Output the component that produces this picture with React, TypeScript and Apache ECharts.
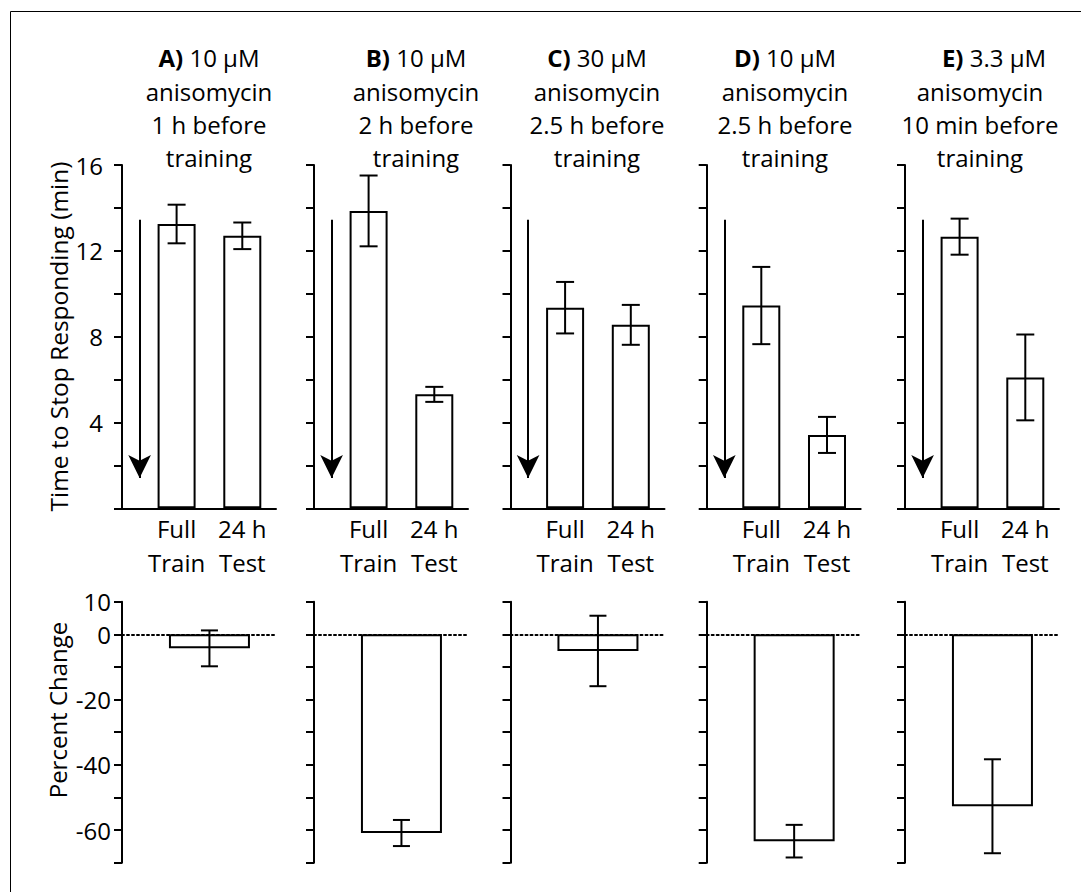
import React, { useEffect, useRef } from 'react';
import * as echarts from 'echarts';

// ---------- data ----------
const panelLetters = ['A)', 'B)', 'C)', 'D)', 'E)'];
const doses = ['10 µM', '10 µM', '30 µM', '10 µM', '3.3 µM'];
const timings = ['1 h before', '2 h before', '2.5 h before', '2.5 h before', '10 min before'];
const titleLine2 = 'anisomycin';
const titleLine4 = 'training';
const categories = ['Full\nTrain', '24 h\nTest'];
const categoryPos = [1, 2];
const changePos = 1.5;

const fullTrain = [13.25, 13.86, 9.35, 9.45, 12.66];
const fullTrainErr = [0.9, 1.65, 1.2, 1.8, 0.84];
const test24 = [12.7, 5.31, 8.55, 3.42, 6.1];
const test24Err = [0.62, 0.35, 0.93, 0.84, 2.0];
const pctChange = [-4.3, -60.9, -5.1, -63.4, -52.7];
const pctChangeErr = [5.5, 4.0, 10.8, 5.0, 14.4];

const topLabeled = [4, 8, 12, 16];
const bottomLabeled = [10, 0, -20, -40, -60];
const arrowFrom = 13.45;
const arrowTo = 1.41;

const topAxisName = 'Time to Stop Responding (min)';
const bottomAxisName = 'Percent Change';

// ---------- layout ----------
const FONT = 'Open Sans';
const FS = 24;
const gridLefts = [122, 314, 510.5, 706.7, 905];
const gridWidth = 154;
const xMin = 0.169;
const xMax = 2.513;
const arrowX = 0.437;
const titleX = [209, 416, 597, 785, 980];
const titleFirstShift = [0, 0, 0, 0, 14];
const titleY = [57.7, 91, 124.3, 157.7];

function buildOption() {
  const grid: any[] = [];
  const xAxis: any[] = [];
  const yAxis: any[] = [];
  const series: any[] = [];
  const graphic: any[] = [];

  const axisLineStyle = { color: '#000', width: 2 };

  const errRender = (cap: number) => (params: any, api: any) => {
    const x = api.value(0);
    const v = api.value(1);
    const e = api.value(2);
    const hi = api.coord([x, v + e]);
    const lo = api.coord([x, v - e]);
    const st = { stroke: '#000', lineWidth: 2 };
    return {
      type: 'group',
      children: [
        { type: 'line', shape: { x1: hi[0], y1: hi[1], x2: lo[0], y2: lo[1] }, style: st },
        { type: 'line', shape: { x1: hi[0] - cap / 2, y1: hi[1], x2: hi[0] + cap / 2, y2: hi[1] }, style: st },
        { type: 'line', shape: { x1: lo[0] - cap / 2, y1: lo[1], x2: lo[0] + cap / 2, y2: lo[1] }, style: st },
      ],
    };
  };

  for (let i = 0; i < 5; i++) {
    const t = 2 * i;
    const b = 2 * i + 1;
    grid.push({ left: gridLefts[i], top: 165, width: gridWidth, height: 343.3 });
    grid.push({ left: gridLefts[i], top: 601.7, width: gridWidth, height: 261 });

    xAxis.push({
      gridIndex: t,
      type: 'value',
      min: xMin,
      max: xMax,
      splitLine: { show: false },
      axisTick: { show: false },
      axisLine: { show: true, onZero: false, lineStyle: axisLineStyle },
      axisLabel: {
        show: true,
        customValues: categoryPos,
        formatter: (v: number) => {
          const k = categoryPos.indexOf(Math.round(v));
          return k >= 0 ? categories[k] : '';
        },
        color: '#000',
        fontSize: FS,
        fontFamily: FONT,
        lineHeight: 34,
        margin: 3,
      },
    });
    yAxis.push({
      gridIndex: t,
      type: 'value',
      min: 0,
      max: 16,
      interval: 2,
      splitLine: { show: false },
      axisLine: { show: true, onZero: false, lineStyle: axisLineStyle },
      axisTick: { show: true, inside: false, length: 8, lineStyle: axisLineStyle },
      axisLabel: {
        show: i === 0,
        formatter: (v: number) => (topLabeled.includes(v) ? String(v) : ''),
        color: '#000',
        fontSize: FS,
        fontFamily: FONT,
        margin: 19,
      },
    });
    xAxis.push({
      gridIndex: b,
      type: 'value',
      min: xMin,
      max: xMax,
      splitLine: { show: false },
      axisTick: { show: false },
      axisLabel: { show: false },
      axisLine: { show: true, onZero: true, lineStyle: { color: '#000', width: 2, type: [2, 3] } },
    });
    yAxis.push({
      gridIndex: b,
      type: 'value',
      min: -70,
      max: 10,
      interval: 10,
      splitLine: { show: false },
      axisLine: { show: true, onZero: false, lineStyle: axisLineStyle },
      axisTick: { show: true, inside: false, length: 8, lineStyle: axisLineStyle },
      axisLabel: {
        show: i === 0,
        formatter: (v: number) => (bottomLabeled.includes(v) ? String(v) : ''),
        color: '#000',
        fontSize: FS,
        fontFamily: FONT,
        margin: 11,
      },
    });

    series.push({
      type: 'bar',
      name: 'time' + i,
      xAxisIndex: t,
      yAxisIndex: t,
      barWidth: 38,
      silent: true,
      itemStyle: { color: '#fff', borderColor: '#000', borderWidth: 2 },
      data: [
        [categoryPos[0], fullTrain[i]],
        [categoryPos[1], test24[i]],
      ],
      markLine: {
        silent: true,
        symbol: ['none', 'arrow'],
        symbolSize: [17, 23],
        label: { show: false },
        lineStyle: { type: 'solid', color: '#000', width: 2 },
        emphasis: { disabled: true },
        data: [[{ coord: [arrowX, arrowFrom] }, { coord: [arrowX, arrowTo] }]],
      },
    });
    series.push({
      type: 'custom',
      name: 'timeErr' + i,
      xAxisIndex: t,
      yAxisIndex: t,
      silent: true,
      z: 5,
      renderItem: errRender(18),
      data: [
        [categoryPos[0], fullTrain[i], fullTrainErr[i]],
        [categoryPos[1], test24[i], test24Err[i]],
      ],
    });
    series.push({
      type: 'bar',
      name: 'pct' + i,
      xAxisIndex: b,
      yAxisIndex: b,
      barWidth: 81,
      silent: true,
      itemStyle: { color: '#fff', borderColor: '#000', borderWidth: 2 },
      data: [[changePos, pctChange[i]]],
    });
    series.push({
      type: 'custom',
      name: 'pctErr' + i,
      xAxisIndex: b,
      yAxisIndex: b,
      silent: true,
      z: 5,
      renderItem: errRender(17),
      data: [[changePos, pctChange[i], pctChangeErr[i]]],
    });

    const lines = [null, titleLine2, timings[i], titleLine4];
    lines.forEach((ln, k) => {
      if (k === 0) {
        graphic.push({
          type: 'text',
          x: titleX[i] + titleFirstShift[i],
          y: titleY[k],
          style: {
            text: `{b|${panelLetters[i]}} ${doses[i]}`,
            align: 'center',
            verticalAlign: 'middle',
            fill: '#000',
            fontSize: FS,
            fontFamily: FONT,
            rich: { b: { fontWeight: 'bold', fontSize: FS, fontFamily: FONT, fill: '#000' } },
          },
        });
      } else {
        graphic.push({
          type: 'text',
          x: titleX[i],
          y: titleY[k],
          style: {
            text: ln,
            align: 'center',
            verticalAlign: 'middle',
            fill: '#000',
            fontSize: FS,
            fontFamily: FONT,
          },
        });
      }
    });
  }

  graphic.push({
    type: 'text',
    x: 58,
    y: 336.5,
    rotation: Math.PI / 2,
    style: { text: topAxisName, align: 'center', verticalAlign: 'middle', fill: '#000', fontSize: 24.5, fontFamily: FONT },
  });
  graphic.push({
    type: 'text',
    x: 57,
    y: 710,
    rotation: Math.PI / 2,
    style: { text: bottomAxisName, align: 'center', verticalAlign: 'middle', fill: '#000', fontSize: FS, fontFamily: FONT },
  });
  graphic.push({
    type: 'polyline',
    shape: { points: [[10.5, 892], [10.5, 11.5], [1081, 11.5]] },
    style: { stroke: '#000', lineWidth: 1, fill: 'none' },
  });

  return {
    animation: false,
    backgroundColor: '#fff',
    textStyle: { fontFamily: FONT },
    grid,
    xAxis,
    yAxis,
    series,
    graphic,
  };
}

export default function App() {
  const ref = useRef<HTMLDivElement>(null);
  useEffect(() => {
    if (!ref.current) return;
    const chart = echarts.init(ref.current, undefined, { renderer: 'svg' });
    chart.setOption(buildOption() as any);
    return () => chart.dispose();
  }, []);
  return (
    <div
      ref={ref}
      style={{ position: 'fixed', left: 0, top: 0, width: 1081, height: 892, background: '#fff' }}
    />
  );
}
